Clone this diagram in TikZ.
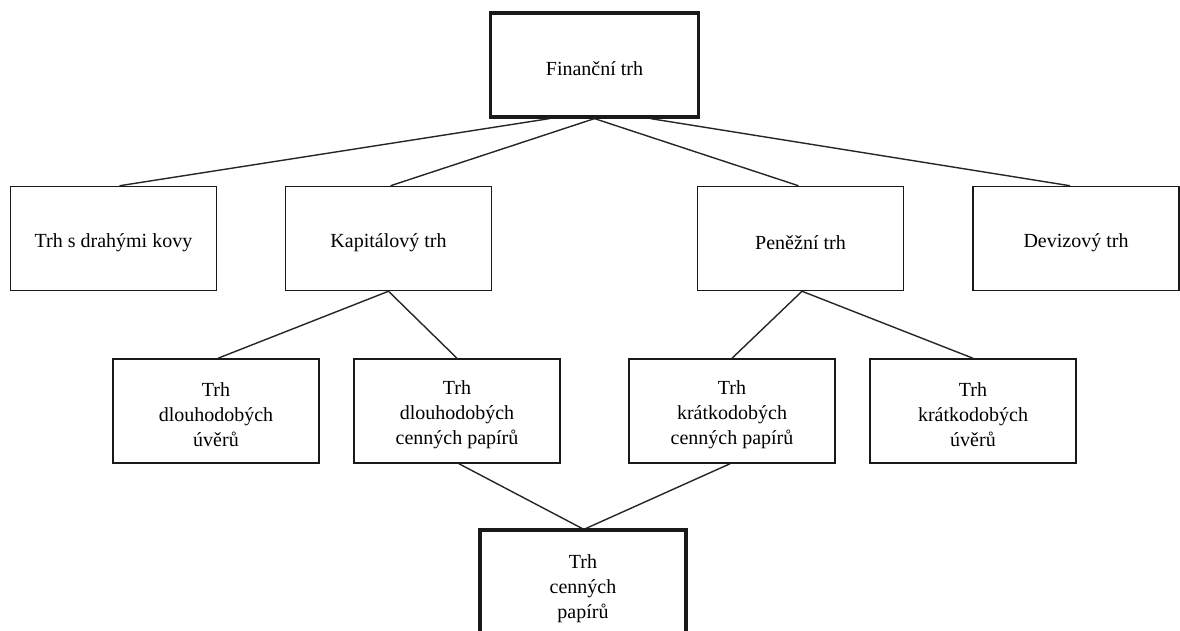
\documentclass[tikz,border=0pt]{standalone}
\usepackage{fontspec}
\setmainfont{Liberation Serif}
\begin{document}
\begin{tikzpicture}[x=1pt,y=-1pt,
  box/.style={draw=black!90, line width=1.5pt, inner sep=0pt,
    minimum width=206pt, minimum height=104pt},
  thickbox/.style={box, line width=3.2pt},
  txt/.style={align=center, inner sep=0pt, yshift=-4pt, font=\fontsize{20}{25}\selectfont},
  conn/.style={draw=black!85, line width=1.4pt}]
\useasboundingbox (0,0) rectangle (1180,630);
\fill[white] (0,0) rectangle (1180,630);
\clip (0,0) rectangle (1180,630);

\node[thickbox, minimum width=208pt] (fin) at (594.5,65) {};
\node[txt] (finT) at (fin.center) {Finanční trh};

\node[box] (kovy) at (113.5,238.5) {};
\node[box] (kap)  at (388.5,238.5) {};
\node[box] (pen)  at (800.5,238.5) {};
\node[box] (dev)  at (1076,238.5) {};
\node[txt] (kovyT) at (kovy.center) {Trh s drahými kovy};
\node[txt] (kapT)  at (kap.center) {Kapitálový trh};
\node[txt] (penT)  at (pen.center) {Peněžní trh};
\node[txt] (devT)  at (dev.center) {Devizový trh};

\node[box] (dlu) at (216,411) {};
\node[box] (dcp) at (457,411) {};
\node[box] (kcp) at (732,411) {};
\node[box] (kru) at (973,411) {};
\node[txt] (dluT) at (dlu.center) {Trh\\dlouhodobých\\úvěrů};
\node[txt] (dcpT) at (dcp.center) {Trh\\dlouhodobých\\cenných papírů};
\node[txt] (kcpT) at (kcp.center) {Trh\\krátkodobých\\cenných papírů};
\node[txt] (kruT) at (kru.center) {Trh\\krátkodobých\\úvěrů};

\node[thickbox, minimum height=110pt] (tcp) at (583,585) {};
\node[txt] (tcpT) at (tcp.center) {Trh\\cenných\\papírů};

\draw[conn] ([xshift=-45pt]fin.south) -- ([xshift=6pt]kovy.north);
\draw[conn] (fin.south) -- ([xshift=2pt]kap.north);
\draw[conn] (fin.south) -- ([xshift=-2pt]pen.north);
\draw[conn] ([xshift=56pt]fin.south) -- ([xshift=-6pt]dev.north);

\draw[conn] (kap.south) -- ([xshift=2pt]dlu.north);
\draw[conn] (kap.south) -- (dcp.north);
\draw[conn] ([xshift=1.5pt]pen.south) -- (kcp.north);
\draw[conn] ([xshift=1.5pt]pen.south) -- (kru.north);

\draw[conn] ([xshift=2pt]dcp.south) -- ([xshift=-1pt]tcp.north);
\draw[conn] ([xshift=-2pt]kcp.south) -- ([xshift=3pt]tcp.north);
\end{tikzpicture}
\end{document}
